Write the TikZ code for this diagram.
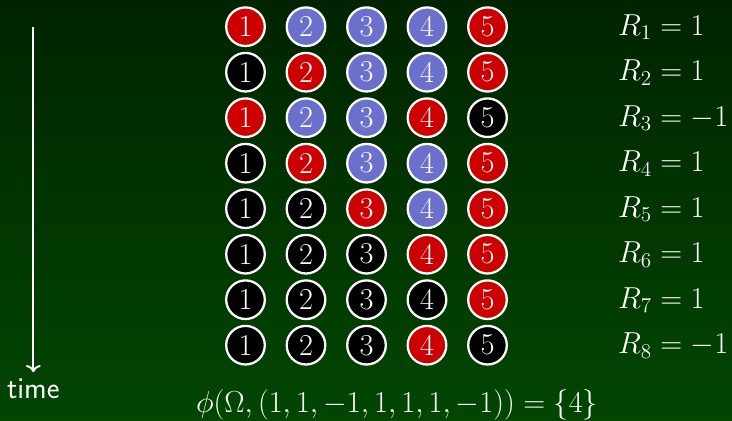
\documentclass[tikz,border=0pt]{standalone}
\usepackage{amsmath}
\usetikzlibrary{arrows.meta, positioning}
\definecolor{sRed}{HTML}{CC0000}
\definecolor{sBlue}{HTML}{6B70CC}
\definecolor{sBlack}{HTML}{000000}
\definecolor{bgTop}{RGB}{0,36,0}
\definecolor{bgBot}{RGB}{2,70,2}

\begin{document}
\begin{tikzpicture}[every node/.style={text=white, font=\LARGE},
    state/.style={circle, draw=white, line width=1.3pt, minimum size=7.72mm, inner sep=0pt}]
    \shade[top color=bgTop, bottom color=bgBot] (0,0) rectangle (14.64,-8.4);
    \useasboundingbox (0,0) rectangle (14.64,-8.4);
    \foreach \row [count=\j] in {{Red,Blue,Blue,Blue,Red},{Black,Red,Blue,Blue,Red},
        {Red,Blue,Blue,Red,Black},{Black,Red,Blue,Blue,Red},{Black,Black,Red,Blue,Red},
        {Black,Black,Black,Red,Red},{Black,Black,Black,Black,Red},{Black,Black,Black,Red,Black}} {
      \def\rv{1}
      \ifnum\j=3 \def\rv{-1}\fi
      \ifnum\j=8 \def\rv{-1}\fi
      \foreach \c [count=\i] in \row {
        \node[state, fill=s\c] (n\j-\i) at ({3.70+\i*1.21}, {-0.534-(\j-1)*0.91}) {\i};
      }
      \node[anchor=base west] (r\j) at (12.24, {-0.70-(\j-1)*0.91}) {$R_{\j} = \rv$};
    }
    \node[anchor=base, font=\LARGE\sffamily] (time) at (0.667,-7.96) {time};
    \coordinate (tstart) at (0.667,-0.534);
    \draw[->, white, line width=1.1pt] (tstart) -- (time.north);
    \node[anchor=base] (phi) at (7.94,-8.25) {$\phi(\Omega, (1,1,-1,1,1,1,-1)) = \{4\}$};
  \end{tikzpicture}
\end{document}
